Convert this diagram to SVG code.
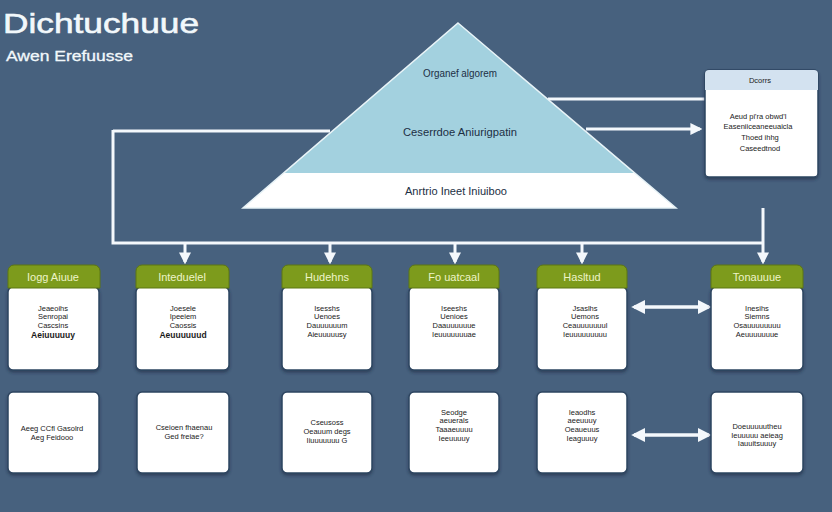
<svg xmlns="http://www.w3.org/2000/svg" width="832" height="512" viewBox="0 0 832 512">
  <defs>
    <marker id="arrow" viewBox="0 0 10 10" refX="8" refY="5" markerWidth="4" markerHeight="4" orient="auto-start-reverse">
      <path d="M0,0 L10,5 L0,10 z" fill="#f4f8fc"/>
    </marker>
    <filter id="shadow" x="-10%" y="-10%" width="120%" height="125%">
      <feDropShadow dx="0" dy="2" stdDeviation="1.5" flood-color="#1e2f45" flood-opacity="0.6"/>
    </filter>
  </defs>
  <style>
    .title { font-family: "Liberation Sans", Arial, sans-serif; fill: #f2f8fb; stroke: #f2f8fb; stroke-width: 0.6; }
    .tri { font-family: "Liberation Sans", Arial, sans-serif; font-size: 10px; fill: #1c2f44; text-anchor: middle; }
    .head { fill: #7d9b1c; stroke: #5c7612; stroke-width: 1; }
    .headtxt { font-family: "Liberation Sans", Arial, sans-serif; font-size: 11px; fill: #eef4c8; text-anchor: middle; }
    .card { fill: #ffffff; stroke: #2d4560; stroke-width: 1.5; filter: url(#shadow); }
    .txt { font-family: "Liberation Sans", Arial, sans-serif; font-size: 7.5px; fill: #1a1a1a; text-anchor: middle; }
    .bold { font-weight: bold; font-size: 8.5px; }
    .wire { stroke: #f4f8fc; stroke-width: 3; fill: none; }
    .wire2 { stroke: #f4f8fc; stroke-width: 3; fill: none; marker-end: url(#arrow); }
    .dbl { stroke: #f4f8fc; stroke-width: 3.5; fill: none; marker-start: url(#arrow); marker-end: url(#arrow); }
  </style>

  <rect width="832" height="512" fill="#47617e"/>

  <!-- heading -->
  <text class="title" x="3" y="33" font-size="28" textLength="196" lengthAdjust="spacingAndGlyphs">Dichtuchuue</text>
  <text class="title" x="6" y="61" font-size="14" textLength="127" lengthAdjust="spacingAndGlyphs" style="stroke-width:0.3">Awen Erefuusse</text>

  <!-- connectors -->
  <g id="connectors">
    <polyline class="wire" points="113,131 330,131"/>
    <polyline class="wire" points="113,130 113,243 763,243"/>
    <line class="wire2" x1="586" y1="129" x2="700" y2="129"/>
    <line class="wire" x1="548" y1="99" x2="706" y2="99"/>
    <line class="wire2" x1="763" y1="208" x2="763" y2="262"/>
    <line class="wire2" x1="185" y1="243" x2="185" y2="262"/>
    <line class="wire2" x1="330" y1="243" x2="330" y2="262"/>
    <line class="wire2" x1="455" y1="243" x2="455" y2="262"/>
    <line class="wire2" x1="582" y1="243" x2="582" y2="262"/>
    <line class="dbl" x1="634" y1="307" x2="709" y2="307"/>
    <line class="dbl" x1="634" y1="435" x2="709" y2="435"/>
  </g>

  <!-- pyramid -->
  <g id="pyramid">
    <polygon points="458,23 676,208 243,208" fill="#ffffff"/>
    <polygon points="458,23 634,173 284,173" fill="#a3d1df"/>
    <polygon points="458,23 676,208 243,208" fill="none" stroke="#e8f3f7" stroke-width="1.5"/>
    <text class="tri" x="460" y="77" textLength="74" lengthAdjust="spacingAndGlyphs">Organef algorem</text>
    <text class="tri" x="460" y="136" textLength="114" lengthAdjust="spacingAndGlyphs">Ceserrdoe Aniurigpatin</text>
    <text class="tri" x="456" y="195" font-size="11" textLength="102" lengthAdjust="spacingAndGlyphs">Anrtrio Ineet Iniuiboo</text>
  </g>

  <!-- side panel -->
  <g id="panel">
    <rect x="705" y="70" width="113" height="107" rx="4" fill="#ffffff" stroke="#2d4560" stroke-width="1.5" filter="url(#shadow)"/>
    <path d="M705,90 V74 a4,4 0 0 1 4,-4 H814 a4,4 0 0 1 4,4 V90 z" fill="#d3e2f0"/>
    <text class="txt" x="760" y="83">Dcorrs</text>
    <text class="txt" x="758" y="119">Aeud pi'ra obwd'l</text>
    <text class="txt" x="758" y="129">Easeniiceaneeuaicla</text>
    <text class="txt" x="760" y="140">Thoed ihhg</text>
    <text class="txt" x="760" y="151">Caseedtnod</text>
  </g>

  <!-- upper row -->
  <g id="node1">
    <rect class="card" x="8" y="287" width="91" height="83" rx="5"/>
    <path class="head" d="M8,288 V271 a6,6 0 0 1 6,-6 H94 a6,6 0 0 1 6,6 V288 z"/>
    <text class="headtxt" x="53" y="281">Iogg Aiuue</text>
    <text class="txt" x="53" y="311">Jeaeoihs</text>
    <text class="txt" x="53" y="319">Senropai</text>
    <text class="txt" x="53" y="328">Cascsins</text>
    <text class="txt bold" x="53" y="338">Aeiuuuuuy</text>
  </g>
  <g id="node2">
    <rect class="card" x="136" y="287" width="93" height="83" rx="5"/>
    <path class="head" d="M136,288 V271 a6,6 0 0 1 6,-6 H223 a6,6 0 0 1 6,6 V288 z"/>
    <text class="headtxt" x="182" y="281">Inteduelel</text>
    <text class="txt" x="183" y="311">Joesele</text>
    <text class="txt" x="183" y="319">Ipeeiem</text>
    <text class="txt" x="183" y="328">Caossis</text>
    <text class="txt bold" x="183" y="338">Aeuuuuuud</text>
  </g>
  <g id="node3">
    <rect class="card" x="282" y="287" width="90" height="83" rx="5"/>
    <path class="head" d="M282,288 V271 a6,6 0 0 1 6,-6 H366 a6,6 0 0 1 6,6 V288 z"/>
    <text class="headtxt" x="327" y="281">Hudehns</text>
    <text class="txt" x="327" y="311">Isesshs</text>
    <text class="txt" x="327" y="319">Uenoes</text>
    <text class="txt" x="327" y="328">Dauuuuuum</text>
    <text class="txt" x="327" y="337">Aieuuuuusy</text>
  </g>
  <g id="node4">
    <rect class="card" x="409" y="287" width="90" height="83" rx="5"/>
    <path class="head" d="M409,288 V271 a6,6 0 0 1 6,-6 H493 a6,6 0 0 1 6,6 V288 z"/>
    <text class="headtxt" x="454" y="281">Fo uatcaal</text>
    <text class="txt" x="454" y="311">Iseeshs</text>
    <text class="txt" x="454" y="319">Uenioes</text>
    <text class="txt" x="454" y="328">Daauuuuuue</text>
    <text class="txt" x="454" y="337">Ieuuuuuuuae</text>
  </g>
  <g id="node5">
    <rect class="card" x="537" y="287" width="90" height="83" rx="5"/>
    <path class="head" d="M537,288 V271 a6,6 0 0 1 6,-6 H621 a6,6 0 0 1 6,6 V288 z"/>
    <text class="headtxt" x="582" y="281">Hasltud</text>
    <text class="txt" x="585" y="311">Jsaslhs</text>
    <text class="txt" x="585" y="319">Uemons</text>
    <text class="txt" x="585" y="328">Ceauuuuuuul</text>
    <text class="txt" x="585" y="337">Ieuuuuuuuuu</text>
  </g>
  <g id="node6">
    <rect class="card" x="711" y="287" width="92" height="83" rx="5"/>
    <path class="head" d="M711,288 V271 a6,6 0 0 1 6,-6 H797 a6,6 0 0 1 6,6 V288 z"/>
    <text class="headtxt" x="757" y="281">Tonauuue</text>
    <text class="txt" x="757" y="311">Inesihs</text>
    <text class="txt" x="757" y="319">Siemns</text>
    <text class="txt" x="757" y="328">Osauuuuuuuu</text>
    <text class="txt" x="757" y="337">Aeuuuuuuue</text>
  </g>

  <!-- lower row -->
  <g id="node7">
    <rect class="card" x="8" y="392" width="91" height="81" rx="5"/>
    <text class="txt" x="52" y="431">Aeeg CCfl Gasolrd</text>
    <text class="txt" x="52" y="440">Aeg Feidooo</text>
  </g>
  <g id="node8">
    <rect class="card" x="137" y="392" width="92" height="81" rx="5"/>
    <text class="txt" x="184" y="430">Cseioen fhaenau</text>
    <text class="txt" x="184" y="439">Ged freiae?</text>
  </g>
  <g id="node9">
    <rect class="card" x="282" y="392" width="90" height="81" rx="5"/>
    <text class="txt" x="327" y="425">Cseusoss</text>
    <text class="txt" x="327" y="434">Oeauum degs</text>
    <text class="txt" x="327" y="443">Iiuuuuuuu G</text>
  </g>
  <g id="node10">
    <rect class="card" x="409" y="392" width="90" height="81" rx="5"/>
    <text class="txt" x="454" y="415">Seodge</text>
    <text class="txt" x="454" y="423">aeuerals</text>
    <text class="txt" x="454" y="432">Taaaeuuuu</text>
    <text class="txt" x="454" y="441">Ieeuuuuy</text>
  </g>
  <g id="node11">
    <rect class="card" x="537" y="392" width="90" height="81" rx="5"/>
    <text class="txt" x="582" y="415">Ieaodhs</text>
    <text class="txt" x="582" y="423">aeeuuuy</text>
    <text class="txt" x="582" y="432">Oeaueuus</text>
    <text class="txt" x="582" y="441">Ieaguuuy</text>
  </g>
  <g id="node12">
    <rect class="card" x="711" y="392" width="92" height="81" rx="5"/>
    <text class="txt" x="757" y="429">Doeuuuuutheu</text>
    <text class="txt" x="757" y="438">Ieuuuuu aeieag</text>
    <text class="txt" x="757" y="446">Iauuitsuuuy</text>
  </g>
</svg>
